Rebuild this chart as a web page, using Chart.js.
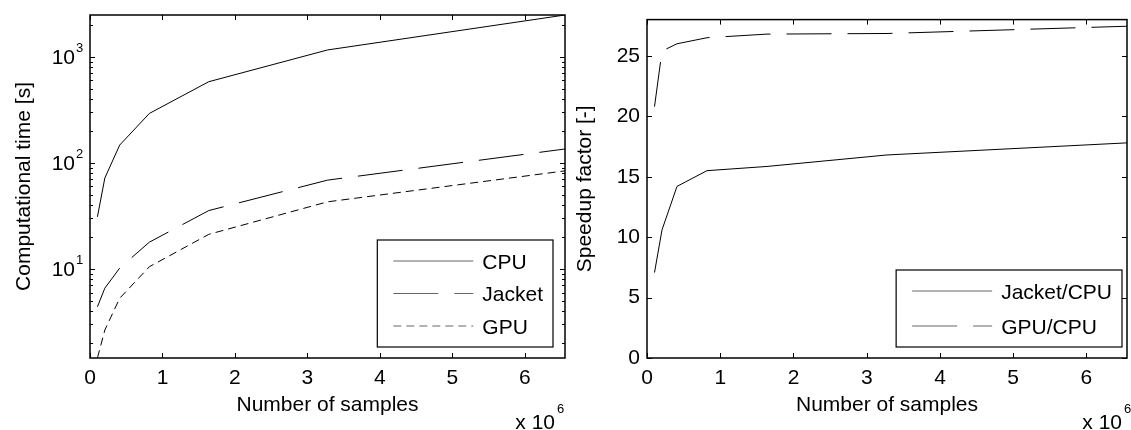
<!DOCTYPE html>
<html>
<head>
    <title>Computational time and speedup</title>
    <script src="https://cdn.jsdelivr.net/npm/chart.js"></script>
    <style>
        body {
            margin: 0;
            background-color: #ffffff;
        }
        #wrap {
            position: relative;
            width: 1131px;
            height: 430px;
        }
        #wrap canvas {
            position: absolute;
            top: 0;
        }
    </style>
</head>
<body>
    <div id="wrap">
        <canvas id="timeChart" width="570" height="430" style="left:0px"></canvas>
        <canvas id="speedChart" width="565" height="430" style="left:566px"></canvas>
    </div>

    <script>
        // Data
        const samples = [102400, 204800, 409600, 819200, 1638400, 3276800, 6553600];
        const cpuTime = [31, 72, 147, 292, 581, 1157, 2470];
        const jacketTime = [4.4, 6.6, 10.2, 17.9, 35.5, 68.7, 135];
        const gpuTime = [1.45, 2.66, 5.3, 10.5, 21.2, 42.9, 84];
        const jacketSpeedup = [7.07, 10.6, 14.2, 15.5, 15.85, 16.8, 17.8];
        const gpuSpeedup = [20.8, 25.4, 26.0, 26.5, 26.8, 26.85, 27.45];

        // Tick labels
        const sampleTicks = [0, 1, 2, 3, 4, 5, 6];      // x 10^6
        const timeExponents = [1, 2, 3];                // 10^1 .. 10^3
        const minorMultiples = [2, 3, 4, 5, 6, 7, 8, 9];
        const speedTicks = [0, 5, 10, 15, 20, 25];

        const FAMILY = '"Liberation Sans", Arial, sans-serif';
        const font = { family: FAMILY, size: 21 };

        function pts(ys) {
            return samples.map((x, i) => ({ x: x, y: ys[i] }));
        }

        function line(label, ys, dash) {
            return {
                label: label,
                data: pts(ys),
                borderColor: '#000000',
                borderWidth: 1,
                borderDash: dash,
                pointRadius: 0,
                tension: 0,
                fill: false
            };
        }

        // Box, inward ticks, superscript labels, legend box and the "x 10^6" note
        const matlabAxes = {
            id: 'matlabAxes',
            afterDraw(chart, args, opts) {
                const ctx = chart.ctx;
                const a = chart.chartArea;
                const xs = chart.scales.x;
                const ys = chart.scales.y;
                ctx.save();
                ctx.strokeStyle = '#000000';

                // x ticks, bottom and top
                ctx.lineWidth = 1;
                sampleTicks.forEach(t => {
                    const px = Math.round(xs.getPixelForValue(t * 1e6)) + 0.5;
                    ctx.beginPath();
                    ctx.moveTo(px, a.bottom); ctx.lineTo(px, a.bottom - 5);
                    ctx.moveTo(px, a.top); ctx.lineTo(px, a.top + 5);
                    ctx.stroke();
                });

                // y ticks, left and right
                function yTick(v, len) {
                    const py = Math.round(ys.getPixelForValue(v)) + 0.5;
                    ctx.beginPath();
                    ctx.moveTo(a.left, py); ctx.lineTo(a.left + len, py);
                    ctx.moveTo(a.right, py); ctx.lineTo(a.right - len, py);
                    ctx.stroke();
                }
                if (opts.log) {
                    timeExponents.concat([0]).forEach(e => {
                        const base = Math.pow(10, e);
                        if (base >= ys.min && base <= ys.max) yTick(base, 5);
                        minorMultiples.forEach(m => {
                            const v = m * base;
                            if (v >= ys.min && v <= ys.max) yTick(v, 3);
                        });
                    });
                    // labels 10^n
                    ctx.fillStyle = '#000000';
                    timeExponents.forEach(e => {
                        const py = ys.getPixelForValue(Math.pow(10, e));
                        ctx.font = '21px ' + FAMILY;
                        ctx.textAlign = 'right';
                        ctx.textBaseline = 'alphabetic';
                        ctx.fillText('10', a.left - 15, py + 7.5);
                        ctx.font = '13px ' + FAMILY;
                        ctx.textAlign = 'left';
                        ctx.fillText(String(e), a.left - 14, py - 5);
                    });
                } else {
                    speedTicks.forEach(v => yTick(v, 5));
                }

                // axes box
                ctx.lineWidth = 1.5;
                ctx.strokeRect(a.left, a.top, a.right - a.left, a.bottom - a.top);

                // x 10^6
                ctx.fillStyle = '#000000';
                ctx.textBaseline = 'alphabetic';
                ctx.font = '21px ' + FAMILY;
                ctx.textAlign = 'right';
                const mx = a.right - opts.multRight;
                ctx.fillText('x 10', mx, 429);
                ctx.font = '13px ' + FAMILY;
                ctx.textAlign = 'left';
                ctx.fillText('6', mx + 2, 413);

                // legend
                const sets = chart.data.datasets;
                ctx.font = '21px ' + FAMILY;
                const textW = Math.max(...sets.map(d => ctx.measureText(d.label).width));
                const boxW = 16 + 80 + 9 + textW + 10;
                const boxH = 42 + (sets.length - 1) * opts.rowGap;
                const bx = a.right - opts.legendRight - boxW;
                const by = a.bottom - 11 - boxH;
                ctx.fillStyle = '#ffffff';
                ctx.fillRect(bx, by, boxW, boxH);
                ctx.lineWidth = 1.2;
                ctx.strokeStyle = '#000000';
                ctx.strokeRect(bx, by, boxW, boxH);
                sets.forEach((d, i) => {
                    const ry = by + 21 + i * opts.rowGap;
                    ctx.strokeStyle = '#666666';
                    ctx.lineWidth = 1;
                    ctx.setLineDash(d.borderDash || []);
                    ctx.beginPath();
                    ctx.moveTo(bx + 16, ry); ctx.lineTo(bx + 96, ry);
                    ctx.stroke();
                    ctx.setLineDash([]);
                    ctx.fillStyle = '#000000';
                    ctx.textAlign = 'left';
                    ctx.fillText(d.label, bx + 105, ry + 7.5);
                });
                ctx.restore();
            }
        };

        function xScale() {
            return {
                type: 'linear',
                min: 0,
                max: samples[samples.length - 1],
                afterBuildTicks: s => { s.ticks = sampleTicks.map(t => ({ value: t * 1e6 })); },
                afterFit: s => { s.height = 72; },
                ticks: {
                    callback: v => v / 1e6,
                    font: font,
                    color: '#000000',
                    padding: 8,
                    maxRotation: 0,
                    autoSkip: false
                },
                grid: { display: false, drawTicks: false },
                border: { display: false },
                title: {
                    display: true,
                    text: 'Number of samples',
                    font: font,
                    color: '#000000',
                    padding: { top: 0, bottom: 12 }
                }
            };
        }

        // Chart 1: computational time (log scale)
        const chart1 = new Chart(document.getElementById('timeChart').getContext('2d'), {
            type: 'line',
            data: {
                datasets: [
                    line('CPU', cpuTime, []),
                    line('Jacket', jacketTime, [45, 16]),
                    line('GPU', gpuTime, [8, 5])
                ]
            },
            options: {
                responsive: false,
                animation: false,
                layout: { padding: { top: 15, right: 5, left: 0, bottom: 0 } },
                scales: {
                    x: xScale(),
                    y: {
                        type: 'logarithmic',
                        min: Math.min(...gpuTime),
                        max: Math.max(...cpuTime),
                        afterFit: s => { s.width = 90; },
                        ticks: { display: false },
                        grid: { display: false, drawTicks: false },
                        border: { display: false },
                        title: {
                            display: true,
                            text: 'Computational time [s]',
                            font: font,
                            color: '#000000',
                            padding: { top: 12, bottom: 0 }
                        }
                    }
                },
                plugins: {
                    legend: { display: false },
                    tooltip: { enabled: false },
                    matlabAxes: { log: true, multRight: 10, legendRight: 12, rowGap: 32.5 }
                }
            },
            plugins: [matlabAxes]
        });

        // Chart 2: speedup factor
        const chart2 = new Chart(document.getElementById('speedChart').getContext('2d'), {
            type: 'line',
            data: {
                datasets: [
                    line('Jacket/CPU', jacketSpeedup, []),
                    line('GPU/CPU', gpuSpeedup, [45, 16])
                ]
            },
            options: {
                responsive: false,
                animation: false,
                layout: { padding: { top: 16, right: 4, left: 0, bottom: 0 } },
                scales: {
                    x: xScale(),
                    y: {
                        type: 'linear',
                        min: 0,
                        max: 28,
                        afterBuildTicks: s => { s.ticks = speedTicks.map(v => ({ value: v })); },
                        afterFit: s => { s.width = 81; },
                        ticks: { font: font, color: '#000000', padding: 7 },
                        grid: { display: false, drawTicks: false },
                        border: { display: false },
                        title: {
                            display: true,
                            text: 'Speedup factor [-]',
                            font: font,
                            color: '#000000',
                            padding: { top: 7, bottom: 0 }
                        }
                    }
                },
                plugins: {
                    legend: { display: false },
                    tooltip: { enabled: false },
                    matlabAxes: { log: false, multRight: 5, legendRight: 5, rowGap: 35 }
                }
            },
            plugins: [matlabAxes]
        });
    </script>
</body>
</html>
